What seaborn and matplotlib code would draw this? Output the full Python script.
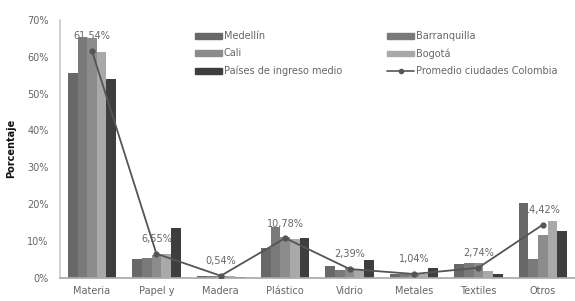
import pandas as pd
import matplotlib.pyplot as plt
import seaborn as sns
from matplotlib.patches import Patch
from matplotlib.lines import Line2D

# categorias (texto visible) y series en %
categorias = ['Materia', 'Papel y', 'Madera', 'Plástico', 'Vidrio', 'Metales', 'Textiles', 'Otros']
ciudades = ['Medellín', 'Barranquilla', 'Cali', 'Bogotá', 'Países de ingreso medio']
medellin = [55.5, 5.2, 0.5, 8.2, 3.3, 1.0, 3.8, 20.4]
barranquilla = [65.4, 5.5, 0.5, 13.9, 2.0, 1.0, 4.1, 5.2]
cali = [65.0, 6.2, 0.6, 11.0, 2.6, 1.1, 4.0, 11.7]
bogota = [61.3, 6.6, 0.5, 10.5, 2.0, 1.0, 1.8, 15.5]
paises = [54.0, 13.6, 0.3, 10.9, 4.9, 2.7, 1.0, 12.8]
promedio = [61.54, 6.55, 0.54, 10.78, 2.39, 1.04, 2.74, 14.42]
etiquetas = ['61,54%', '6,55%', '0,54%', '10,78%', '2,39%', '1,04%', '2,74%', '14,42%']

colores = ['#686868', '#7a7a7a', '#8c8c8c', '#a9a9a9', '#3e3e3e']

df = pd.DataFrame({
    'Categoria': categorias * 5,
    'Ciudad': sum([[c] * len(categorias) for c in ciudades], []),
    'Valor': medellin + barranquilla + cali + bogota + paises,
})

sns.set_theme(style='white')
plt.rcParams['font.family'] = ['DejaVu Sans']

fig = plt.figure(figsize=(5.75, 3.01), dpi=100)
ax = fig.add_axes([0.104, 0.077, 0.896, 0.857])

sns.barplot(data=df, x='Categoria', y='Valor', hue='Ciudad', palette=colores,
            width=0.75, gap=0, saturation=1, linewidth=0, legend=False, ax=ax, zorder=2)
sns.pointplot(x=categorias, y=promedio, color='#555555', markers='o',
              markersize=3.5, linewidth=1.3, ax=ax)
for c in ax.collections + ax.lines:
    c.set_zorder(3)

# etiquetas detras de las barras
for i, (v, t) in enumerate(zip(promedio, etiquetas)):
    ax.annotate(t, (i, v), xytext=(0, 10.5), textcoords='offset points',
                ha='center', va='center', fontsize=7, color='#666666', zorder=1)

ax.set_ylim(0, 70)
ax.set_xlim(-0.5, 7.5)
ax.set_yticks(range(0, 71, 10))
ax.set_yticklabels([f'{v}%' for v in range(0, 71, 10)])
ax.tick_params(axis='both', labelsize=7, colors='#666666', length=0, pad=6)
ax.tick_params(axis='y', length=3, color='#bbbbbb', pad=5)
ax.set_xlabel('')
ax.set_ylabel('Porcentaje', fontsize=7, color='#111111', labelpad=8, fontweight='semibold')
for s in ['top', 'right']:
    ax.spines[s].set_visible(False)
ax.spines['left'].set_color('#cccccc')
ax.spines['bottom'].set_color('#aaaaaa')

h = [Patch(color=colores[i]) for i in range(5)]
linea = Line2D([], [], color='#555555', marker='o', markersize=3, linewidth=1.2)
handles = [h[0], h[2], h[4], h[1], h[3], linea]
labels = [ciudades[0], ciudades[2], ciudades[4], ciudades[1], ciudades[3], 'Promedio ciudades Colombia']
ax.legend(handles, labels, ncol=2, loc='upper left', bbox_to_anchor=(0.245, 0.99),
          frameon=False, fontsize=7, labelcolor='#666666', handlelength=2.8,
          handleheight=0.5, handletextpad=0.2, columnspacing=4.6, labelspacing=0.75)

plt.savefig('out.png', dpi=100)
